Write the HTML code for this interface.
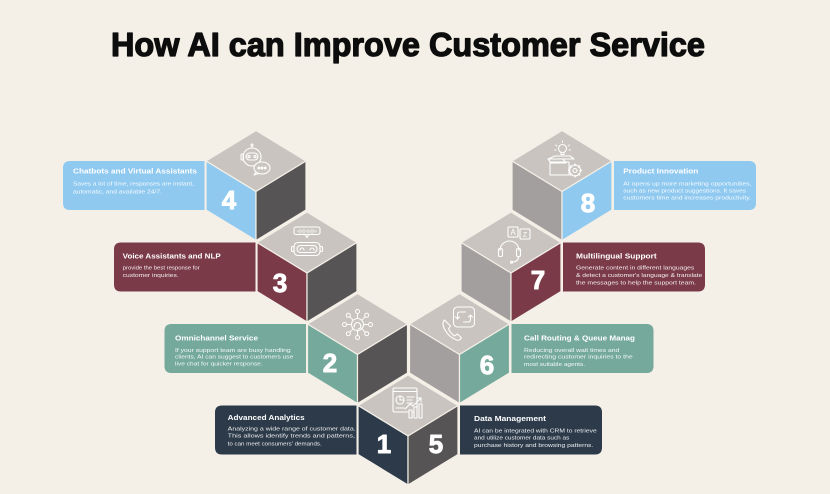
<!DOCTYPE html>
<html>
<head>
<meta charset="utf-8">
<style>
html,body{margin:0;padding:0;background:#F4F0E7;}
body{width:830px;height:494px;overflow:hidden;}
svg{display:block;font-family:"Liberation Sans","Noto Sans CJK SC",sans-serif;}
.t{font-weight:bold;font-size:7.6px;fill:#fff;}
.d{font-size:5.8px;fill:#fff;fill-opacity:0.92;}
.n{font-weight:bold;font-size:26px;fill:#fff;text-anchor:middle;stroke:#fff;stroke-width:0.9;stroke-linejoin:round;}
.f{stroke:#F4F0E7;stroke-width:1.2;stroke-linejoin:round;}
.ic{fill:none;stroke:#fff;stroke-width:1.1;stroke-linecap:round;stroke-linejoin:round;}
</style>
</head>
<body>
<svg width="830" height="494" viewBox="0 0 830 494" xmlns="http://www.w3.org/2000/svg">
<rect width="830" height="494" fill="#F4F0E7"/>

<text x="111" y="56" font-size="33.5" font-weight="bold" fill="#0d0d0d" stroke="#0d0d0d" stroke-width="1.3" stroke-linejoin="round" textLength="594" lengthAdjust="spacingAndGlyphs">How AI can Improve Customer Service</text>

<!-- Boxes -->
<path d="M204.5,161 H70 Q63,161 63,168 V203 Q63,210 70,210 H204.5 Z" fill="#8FC9F0"/>
<path d="M255.5,242.5 H121 Q114,242.5 114,249.5 V284.5 Q114,291.5 121,291.5 H255.5 Z" fill="#7A3A48"/>
<path d="M306,324 H171.5 Q164.5,324 164.5,331 V366 Q164.5,373 171.5,373 H306 Z" fill="#74A99B"/>
<path d="M356.5,405.5 H222 Q215,405.5 215,412.5 V447.5 Q215,454.5 222,454.5 H356.5 Z" fill="#2C3A4A"/>
<path d="M460,405.5 H595 Q602,405.5 602,412.5 V447.5 Q602,454.5 595,454.5 H460 Z" fill="#2C3A4A"/>
<path d="M511.5,324 H646.5 Q653.5,324 653.5,331 V366 Q653.5,373 646.5,373 H511.5 Z" fill="#74A99B"/>
<path d="M563,242.5 H698 Q705,242.5 705,249.5 V284.5 Q705,291.5 698,291.5 H563 Z" fill="#7A3A48"/>
<path d="M614,161 H749 Q756,161 756,168 V203 Q756,210 749,210 H614 Z" fill="#8FC9F0"/>

<!-- Cube 4 -->
<polygon class="f" points="256,130.5 306,161 256,191.5 206,161" fill="#C9C4BF"/>
<polygon class="f" points="206,161 256,191.5 256,240.5 206,210" fill="#8FC9F0"/>
<polygon class="f" points="256,191.5 306,161 306,210 256,240.5" fill="#575455"/>
<!-- Cube 8 -->
<polygon class="f" points="562,130.5 612,161 562,191.5 512,161" fill="#C9C4BF"/>
<polygon class="f" points="512,161 562,191.5 562,240.5 512,210" fill="#A29F9E"/>
<polygon class="f" points="562,191.5 612,161 612,210 562,240.5" fill="#8FC9F0"/>
<!-- Cube 3 -->
<polygon class="f" points="307,212 357,242.5 307,273 257,242.5" fill="#C9C4BF"/>
<polygon class="f" points="257,242.5 307,273 307,322 257,291.5" fill="#7A3A48"/>
<polygon class="f" points="307,273 357,242.5 357,291.5 307,322" fill="#575455"/>
<!-- Cube 7 -->
<polygon class="f" points="511,212 561,242.5 511,273 461,242.5" fill="#C9C4BF"/>
<polygon class="f" points="461,242.5 511,273 511,322 461,291.5" fill="#A29F9E"/>
<polygon class="f" points="511,273 561,242.5 561,291.5 511,322" fill="#7A3A48"/>
<!-- Cube 2 -->
<polygon class="f" points="357.5,293.5 407.5,324 357.5,354.5 307.5,324" fill="#C9C4BF"/>
<polygon class="f" points="307.5,324 357.5,354.5 357.5,403.5 307.5,373" fill="#74A99B"/>
<polygon class="f" points="357.5,354.5 407.5,324 407.5,373 357.5,403.5" fill="#575455"/>
<!-- Cube 6 -->
<polygon class="f" points="459.5,293.5 509.5,324 459.5,354.5 409.5,324" fill="#C9C4BF"/>
<polygon class="f" points="409.5,324 459.5,354.5 459.5,403.5 409.5,373" fill="#A29F9E"/>
<polygon class="f" points="459.5,354.5 509.5,324 509.5,373 459.5,403.5" fill="#74A99B"/>
<!-- Cube 1/5 -->
<polygon class="f" points="408,375 458,405.5 408,436 358,405.5" fill="#C9C4BF"/>
<polygon class="f" points="358,405.5 408,436 408,485 358,454.5" fill="#2C3A4A"/>
<polygon class="f" points="408,436 458,405.5 458,454.5 408,485" fill="#575455"/>

<!-- Numbers -->
<text class="n" x="229" y="209">4</text>
<text class="n" x="280" y="292">3</text>
<text class="n" x="330" y="372">2</text>
<text class="n" x="384" y="453">1</text>
<text class="n" x="436" y="453">5</text>
<text class="n" x="487" y="374">6</text>
<text class="n" x="538" y="289">7</text>
<text class="n" x="588" y="212">8</text>

<!-- Icon 4: chatbot -->
<g class="ic" transform="translate(256,161)">
  <circle cx="-4" cy="-4" r="9"/>
  <rect x="-10" y="-8" width="12" height="7" rx="3.5"/>
  <circle cx="-7" cy="-4.5" r="1.1"/>
  <circle cx="-1" cy="-4.5" r="1.1"/>
  <line x1="-4" y1="-13" x2="-4" y2="-15"/>
  <circle cx="-4" cy="-16" r="1"/>
  <rect x="-15" y="-7" width="2.5" height="6" rx="1"/>
  <ellipse cx="6" cy="7" rx="8" ry="6" fill="#C9C4BF"/>
  <path d="M0,11 L-2,14 L3,12.5"/>
  <circle cx="2.8" cy="7" r="0.9" fill="#fff"/>
  <circle cx="6" cy="7" r="0.9" fill="#fff"/>
  <circle cx="9.2" cy="7" r="0.9" fill="#fff"/>
</g>

<!-- Icon 3: voice -->
<g class="ic" transform="translate(307,242.5)">
  <rect x="-13" y="-15.5" width="26" height="7.5" rx="2"/>
  <path d="M-2,-8 L0,-5 L2,-8"/>
  <path d="M-9,-12 v1.5 M-7,-13 v3.5 M-5,-12.5 v2.5 M-3,-13.5 v4.5 M-1,-12 v1.5 M1,-13 v3.5 M3,-12.5 v2.5 M5,-13.5 v4.5 M7,-12.5 v2.5 M9,-12 v1.5" stroke-width="0.8"/>
  <rect x="-13" y="0" width="26" height="13" rx="4"/>
  <rect x="-10" y="3" width="20" height="7" rx="3.5"/>
  <path d="M-7,7.5 a2,2 0 0 1 4,0 M3,7.5 a2,2 0 0 1 4,0"/>
  <rect x="-15.5" y="4" width="2.5" height="5" rx="1"/>
  <rect x="13" y="4" width="2.5" height="5" rx="1"/>
</g>

<!-- Icon 2: omnichannel -->
<g class="ic" transform="translate(357.5,324.5)">
  <circle cx="0" cy="0" r="6"/>
  <path d="M-3,1 a3,3 0 0 1 6,0 M-3.3,0.5 v2 M3.3,0.5 v2 M3,2.5 q0,2 -2.5,2"/>
  <g stroke-width="1">
    <line x1="0" y1="-6" x2="0" y2="-11"/><circle cx="0" cy="-13" r="2"/>
    <line x1="0" y1="6" x2="0" y2="11"/><circle cx="0" cy="13" r="2"/>
    <line x1="-6" y1="0" x2="-11" y2="0"/><circle cx="-13" cy="0" r="2"/>
    <line x1="6" y1="0" x2="11" y2="0"/><circle cx="13" cy="0" r="2"/>
    <line x1="4.2" y1="-4.2" x2="7.8" y2="-7.8"/><circle cx="9.2" cy="-9.2" r="2"/>
    <line x1="-4.2" y1="-4.2" x2="-7.8" y2="-7.8"/><circle cx="-9.2" cy="-9.2" r="2"/>
    <line x1="4.2" y1="4.2" x2="7.8" y2="7.8"/><circle cx="9.2" cy="9.2" r="2"/>
    <line x1="-4.2" y1="4.2" x2="-7.8" y2="7.8"/><circle cx="-9.2" cy="9.2" r="2"/>
  </g>
</g>

<!-- Icon 1: analytics -->
<g class="ic" transform="translate(408,404)">
  <rect x="-15" y="-16" width="24" height="24" rx="1.5"/>
  <line x1="-15" y1="-12.5" x2="9" y2="-12.5"/>
  <circle cx="-8" cy="-4" r="4"/>
  <path d="M-8,-8 V-4 H-4"/>
  <path d="M-1,-7 H6 M-1,-4 H4 M-1,-1 H5 M-12,4 H-4"/>
  <rect x="1" y="6" width="3" height="8" fill="#C9C4BF"/>
  <rect x="6" y="3" width="3" height="11" fill="#C9C4BF"/>
  <rect x="11" y="0" width="3" height="14" fill="#C9C4BF"/>
  <path d="M-3,5 L2,0 L5,2 L13,-6"/>
  <path d="M9,-6 H13 V-2"/>
</g>

<!-- Icon 6: call routing -->
<g class="ic" transform="translate(459.5,324)">
  <rect x="-6" y="-17" width="21" height="20" rx="4"/>
  <path d="M0,-12 q-2,0 -2,3 v4 l-2,-2 M-2,-5 l2,-2"/>
  <path d="M9,-2 q2,0 2,-3 v-4 l2,2 M11,-9 l-2,2"/>
  <path d="M1,-12 h5 M4,-2 h4"/>
  <path d="M-15,-4 q-3,3 0,9 q4,8 12,11 q3,1 5,-2 l-4,-4 l-3,2 q-4,-3 -6,-7 l2,-3 z" fill="#C9C4BF"/>
</g>

<!-- Icon 7: multilingual -->
<g class="ic" transform="translate(511,242.5)">
  <path d="M-11,8 a9.5,9.5 0 0 1 19,0"/>
  <rect x="-12.5" y="6" width="4" height="8" rx="1.5"/>
  <rect x="5.5" y="6" width="4" height="8" rx="1.5"/>
  <path d="M7.5,14 q0,5 -6,5.5"/>
  <circle cx="0.5" cy="19.8" r="1"/>
  <rect x="-3" y="-15.5" width="10" height="10" rx="1"/>
  <rect x="9" y="-13.5" width="10" height="10" rx="1" fill="#C9C4BF"/>
  <text x="2" y="-7.5" font-size="8" fill="#fff" stroke="none" text-anchor="middle">A</text>
  <text x="14" y="-5.5" font-size="7" fill="#fff" stroke="none" text-anchor="middle">Z</text>
</g>

<!-- Icon 8: product innovation -->
<g class="ic" transform="translate(562,161)">
  <circle cx="0.5" cy="-12.5" r="4"/>
  <path d="M-1,-8.5 v2 h3 v-2"/>
  <path d="M0.5,-18.5 v-1.5 M-5,-15 l-1.5,-1 M6,-15 l1.5,-1 M-6,-11 h-1.5 M7,-11 h1.5" stroke-width="0.9"/>
  <path d="M-14,-2 L-7,-5 L8,-5 L12,-2 Z"/>
  <path d="M-14,-2 L-11,2 L4,2 L1,-2"/>
  <rect x="-12" y="1" width="19" height="13"/>
  <circle cx="13" cy="9.5" r="5.5" fill="#C9C4BF"/>
  <circle cx="13" cy="9.5" r="2"/>
  <path d="M13,3 v1.5 M13,14.5 v1.5 M6.5,9.5 h1.5 M18,9.5 h1.5 M8.5,5 l1,1 M16.5,13 l1,1 M8.5,14 l1,-1 M16.5,6 l1,-1" stroke-width="1.3"/>
</g>

<!-- Box texts -->
<text class="t" x="73" y="173.7" textLength="124" lengthAdjust="spacingAndGlyphs">Chatbots and Virtual Assistants</text>
<text class="d" x="73" y="185.3" textLength="121" lengthAdjust="spacingAndGlyphs">Saves a lot of time, responses are instant,</text>
<text class="d" x="73" y="193.7" textLength="89" lengthAdjust="spacingAndGlyphs">automatic, and available 24/7.</text>

<text class="t" x="122.7" y="258.4" textLength="98" lengthAdjust="spacingAndGlyphs">Voice Assistants and NLP</text>
<text class="d" x="122.7" y="269.7" textLength="77" lengthAdjust="spacingAndGlyphs">provide the best response for</text>
<text class="d" x="122.7" y="277" textLength="56" lengthAdjust="spacingAndGlyphs">customer inquiries.</text>

<text class="t" x="175" y="340.4" textLength="83" lengthAdjust="spacingAndGlyphs">Omnichannel Service</text>
<text class="d" x="175" y="352" textLength="115.7" lengthAdjust="spacingAndGlyphs">If your support team are busy handling</text>
<text class="d" x="175" y="358.7" textLength="118.3" lengthAdjust="spacingAndGlyphs">clients, AI can suggest to customers use</text>
<text class="d" x="175" y="365.3" textLength="87.7" lengthAdjust="spacingAndGlyphs">live chat for quicker response.</text>

<text class="t" x="227.7" y="420" textLength="77" lengthAdjust="spacingAndGlyphs">Advanced Analytics</text>
<text class="d" x="227.7" y="430.3" textLength="128" lengthAdjust="spacingAndGlyphs">Analyzing a wide range of customer data.</text>
<text class="d" x="227.7" y="437.7" textLength="127.3" lengthAdjust="spacingAndGlyphs">This allows identify trends and patterns,</text>
<text class="d" x="227.7" y="445.3" textLength="94" lengthAdjust="spacingAndGlyphs">to can meet consumers' demands.</text>

<text class="t" x="474" y="421" textLength="72" lengthAdjust="spacingAndGlyphs">Data Management</text>
<text class="d" x="474" y="432.3" textLength="122.7" lengthAdjust="spacingAndGlyphs">AI can be integrated with CRM to retrieve</text>
<text class="d" x="474" y="439.7" textLength="95.3" lengthAdjust="spacingAndGlyphs">and utilize customer data such as</text>
<text class="d" x="474" y="447" textLength="119.3" lengthAdjust="spacingAndGlyphs">purchase history and browsing patterns.</text>

<text class="t" x="524" y="340.4" textLength="111" lengthAdjust="spacingAndGlyphs">Call Routing &amp; Queue Manag</text>
<text class="d" x="524" y="352" textLength="95.3" lengthAdjust="spacingAndGlyphs">Reducing overall wait times and</text>
<text class="d" x="524" y="358.7" textLength="108.7" lengthAdjust="spacingAndGlyphs">redirecting customer inquiries to the</text>
<text class="d" x="524" y="366" textLength="61" lengthAdjust="spacingAndGlyphs">most suitable agents.</text>

<text class="t" x="576" y="258.4" textLength="80.7" lengthAdjust="spacingAndGlyphs">Multilingual Support</text>
<text class="d" x="576" y="269.7" textLength="118.3" lengthAdjust="spacingAndGlyphs">Generate content in different languages</text>
<text class="d" x="576" y="277" textLength="126.3" lengthAdjust="spacingAndGlyphs">&amp; detect a customer's language &amp; translate</text>
<text class="d" x="576" y="284.3" textLength="120" lengthAdjust="spacingAndGlyphs">the messages to help the support team.</text>

<text class="t" x="623.3" y="173.7" textLength="75" lengthAdjust="spacingAndGlyphs">Product Innovation</text>
<text class="d" x="623.3" y="185.3" textLength="128.3" lengthAdjust="spacingAndGlyphs">AI opens up more marketing opportunities,</text>
<text class="d" x="623.3" y="192.7" textLength="122.7" lengthAdjust="spacingAndGlyphs">such as new product suggestions. It saves</text>
<text class="d" x="623.3" y="199.7" textLength="127.7" lengthAdjust="spacingAndGlyphs">customers time and increases productivity.</text>
</svg>
</body>
</html>
